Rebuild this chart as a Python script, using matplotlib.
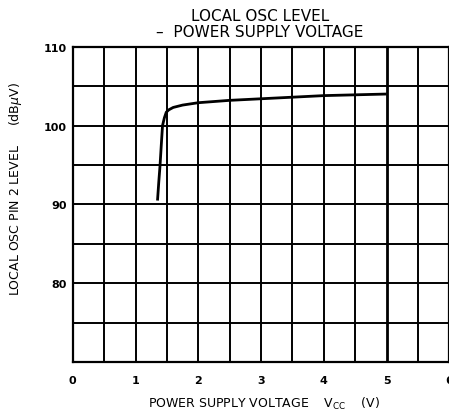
import matplotlib
matplotlib.use("Agg")
import matplotlib.pyplot as plt
import numpy as np

# Data
vcc = [1.35, 1.37, 1.39, 1.41, 1.43, 1.46, 1.49, 1.53, 1.60, 1.75, 2.0, 2.5, 3.0, 3.5, 4.0, 4.5, 5.0]
level = [90.5, 92.8, 94.9, 97.5, 100.0, 101.0, 101.7, 102.0, 102.3, 102.6, 102.9, 103.2, 103.4, 103.6, 103.8, 103.9, 104.0]

x_ticks = [0, 1, 2, 3, 4, 5, 6]
y_ticks = [80, 90, 100, 110]

fig = plt.figure(figsize=(4.49, 4.14), dpi=100)
ax = fig.add_axes([0.162, 0.1225, 0.839, 0.7623])
ax.set_xlim(0, 6)
ax.set_ylim(70, 110)

for xv in np.arange(0.5, 6.0, 0.5):
    lw = 2.0 if xv == 5.0 else 1.4
    ax.axvline(xv, color="black", lw=lw, zorder=1)
for yv in np.arange(75, 110, 5):
    ax.axhline(yv, color="black", lw=1.4, zorder=1)

ax.plot(vcc, level, color="black", lw=2.0, zorder=3, solid_capstyle="butt")

for s in ax.spines.values():
    s.set_linewidth(1.6)

ax.set_xticks(x_ticks)
ax.set_yticks(y_ticks)
ax.tick_params(length=0, labelsize=8)
ax.tick_params(axis="x", pad=9)
ax.tick_params(axis="y", pad=4)
for lab in ax.get_xticklabels() + ax.get_yticklabels():
    lab.set_fontweight("bold")

fig.text(0.579, 0.960, "LOCAL OSC LEVEL", ha="center", va="center", fontsize=11)
fig.text(0.579, 0.922, "–  POWER SUPPLY VOLTAGE", ha="center", va="center", fontsize=11)
fig.text(0.588, 0.024, r"POWER SUPPLY VOLTAGE    V$_{\mathrm{CC}}$    (V)", ha="center", va="center", fontsize=9)
fig.text(0.035, 0.543, r"LOCAL OSC PIN 2 LEVEL     (dB$\mu$V)", ha="center", va="center", rotation=90, fontsize=9)

fig.savefig("out.png", dpi=100)
